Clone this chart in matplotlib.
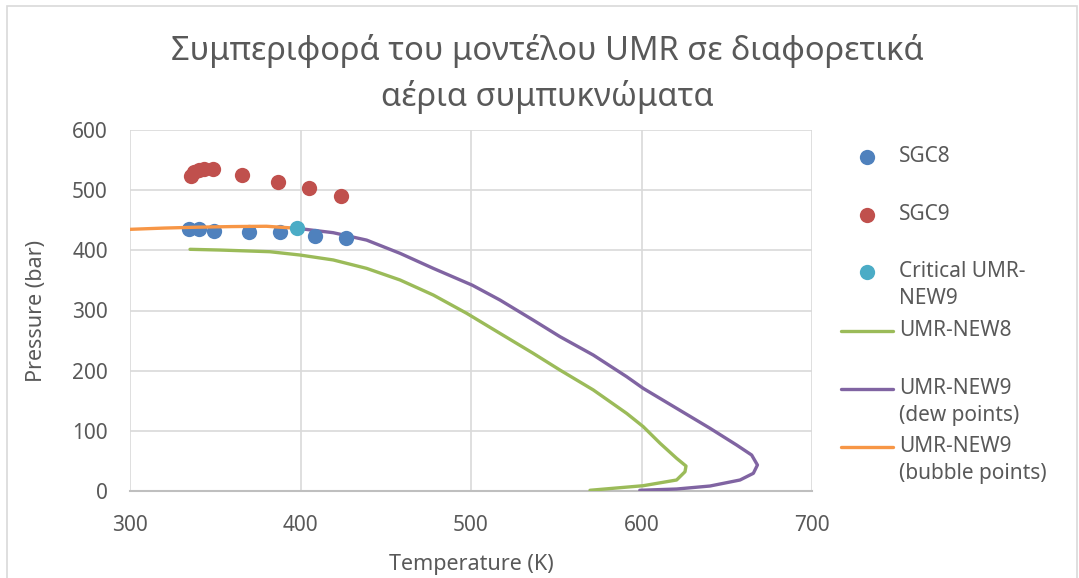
import matplotlib
matplotlib.use("Agg")
import matplotlib.pyplot as plt
from matplotlib.lines import Line2D
from matplotlib.patches import Rectangle

plt.rcParams['font.family'] = ['Noto Sans', 'DejaVu Sans']

# measured points
sgc8_T = [334.6, 340.5, 349.4, 369.6, 388.2, 408.3, 426.7]
sgc8_P = [434.9, 434.9, 432.6, 429.9, 431.0, 424.3, 421.0]

sgc9_T = [335.5, 337.5, 340.5, 343.5, 348.5, 365.9, 386.6, 404.8, 423.6]
sgc9_P = [524.0, 530.0, 534.0, 536.0, 535.0, 525.0, 514.0, 503.0, 490.0]

crit_T = [398.1]
crit_P = [436.6]

# UMR-NEW8 phase envelope
new8_T = [335.2, 352.8, 382.0, 399.7, 419.2, 438.8, 458.4, 477.9, 497.5, 517.0,
          536.5, 552.2, 571.7, 591.3, 601.0, 610.9, 620.6, 626.1, 625.5, 620.6,
          601.0, 569.8]
new8_P = [401.7, 400.5, 397.7, 392.2, 384.0, 370.0, 350.7, 325.7, 295.3, 262.0,
          228.8, 201.0, 168.0, 129.0, 107.0, 79.3, 54.3, 41.5, 32.0, 18.3,
          8.8, 1.2]

# UMR-NEW9 dew branch
dew_T = [398.1, 419.2, 438.8, 458.4, 477.9, 500.8, 517.0, 536.5, 552.2, 571.7,
         591.3, 601.0, 620.6, 640.2, 655.8, 664.6, 668.0, 665.6, 657.8, 640.2,
         620.6, 599.0]
dew_P = [436.6, 429.3, 417.0, 395.0, 370.0, 342.0, 317.4, 284.0, 256.5, 226.0,
         190.0, 170.6, 137.4, 104.2, 76.4, 59.8, 43.2, 29.4, 18.3, 8.3,
         3.3, 1.2]

# UMR-NEW9 bubble branch
bub_T = [300.0, 320.0, 340.0, 360.0, 380.0, 398.1]
bub_P = [434.9, 437.0, 438.5, 439.5, 440.0, 436.6]

txt = '#595959'
grid = '#D9D9D9'
c_sgc8 = '#4F81BD'
c_sgc9 = '#C0504D'
c_crit = '#4BACC6'
c_new8 = '#9BBB59'
c_dew = '#8064A2'
c_bub = '#F79646'

W, H = 1079, 578
fig = plt.figure(figsize=(W / 100, H / 100), dpi=100)
ax = fig.add_axes([130 / W, 1 - 491 / H, (812 - 130) / W, (491 - 130) / H])

ax.plot(new8_T, new8_P, color=c_new8, lw=2.4, solid_capstyle='round', zorder=3)
ax.plot(dew_T, dew_P, color=c_dew, lw=2.4, solid_capstyle='round', zorder=3)
ax.plot(sgc8_T, sgc8_P, 'o', color=c_sgc8, ms=11, mec='none', zorder=4)
ax.plot(sgc9_T, sgc9_P, 'o', color=c_sgc9, ms=11, mec='none', zorder=4)
ax.plot(bub_T, bub_P, color=c_bub, lw=2.4, solid_capstyle='round', zorder=5)
ax.plot(crit_T, crit_P, 'o', color=c_crit, ms=11, mec='none', zorder=6)

ax.set_xlim(300, 700)
ax.set_ylim(0, 600)
ax.set_xticks([300, 400, 500, 600, 700])
ax.set_yticks([0, 100, 200, 300, 400, 500, 600])
ax.grid(True, color=grid, lw=1.2)
ax.set_axisbelow(True)
for s in ['left', 'right', 'top']:
    ax.spines[s].set_visible(False)
ax.spines['bottom'].set_color('#BFBFBF')
ax.spines['bottom'].set_linewidth(1.5)
ax.tick_params(length=0, labelsize=15, colors=txt)
ax.tick_params(axis='y', pad=16)
ax.tick_params(axis='x', pad=17)
ax.set_xlabel('Temperature (K)', fontsize=15.5, color=txt, labelpad=13)
ax.set_ylabel('Pressure (bar)', fontsize=15.5, color=txt, labelpad=18)

fig.text(547 / W, 1 - 74 / H,
         'Συμπεριφορά του μοντέλου UMR σε διαφορετικά\nαέρια συμπυκνώματα',
         ha='center', va='center', multialignment='center',
         fontsize=23.5, color=txt, linespacing=1.45)

# legend drawn in figure pixels
def fx(px):
    return px / W

def fy(py):
    return 1 - py / H

entries = [
    ('marker', c_sgc8, 'SGC8', 157),
    ('marker', c_sgc9, 'SGC9', 215),
    ('marker', c_crit, 'Critical UMR-\nNEW9', 272),
    ('line', c_new8, 'UMR-NEW8', 331),
    ('line', c_dew, 'UMR-NEW9\n(dew points)', 389),
    ('line', c_bub, 'UMR-NEW9\n(bubble points)', 447),
]
for kind, col, label, py in entries:
    if kind == 'marker':
        fig.add_artist(Line2D([fx(867)], [fy(py)], marker='o', ms=11,
                              color=col, mec='none', transform=fig.transFigure))
    else:
        fig.add_artist(Line2D([fx(841), fx(893)], [fy(py), fy(py)], lw=2.4,
                              color=col, solid_capstyle='round',
                              transform=fig.transFigure))
    fig.text(fx(899), fy(py - 11), label, ha='left', va='top',
             fontsize=15, color=txt, linespacing=1.35)

fig.add_artist(Rectangle((7 / W, -0.05), (1077 - 7) / W, 1.05 - 6 / H,
                         transform=fig.transFigure, fill=False,
                         edgecolor=grid, lw=1.2))

fig.savefig('out.png', dpi=100, facecolor='white')
